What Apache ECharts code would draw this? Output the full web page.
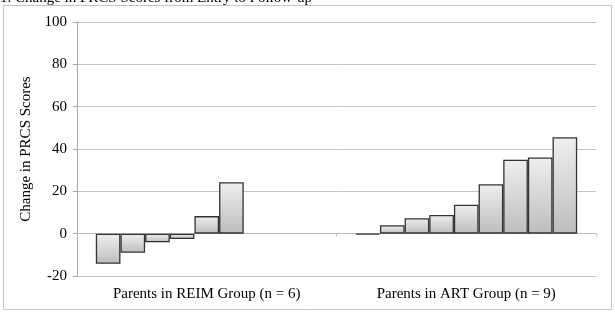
<!DOCTYPE html>
<html>
<head>
<meta charset="utf-8">
<script src="https://cdn.jsdelivr.net/npm/echarts@6/dist/echarts.min.js"></script>
<style>
  html, body { margin: 0; padding: 0; background: #fff; }
  #chart { width: 615px; height: 314px; }
</style>
</head>
<body>
<div id="chart"></div>
<script>
// groups on the category axis
const groups = ['Parents in REIM Group (n = 6)', 'Parents in ART Group (n = 9)'];
// change in PRCS scores, one bar per parent, sorted
const reimScores = [-14.2, -9.0, -4.1, -2.5, 8.3, 24.3];
const artScores = [-0.5, 4.0, 7.3, 8.8, 13.7, 23.4, 34.9, 36.0, 45.6];
const yTicks = [-20, 0, 20, 40, 60, 80, 100];

const serif = '"Liberation Serif", "Times New Roman", serif';
const chart = echarts.init(document.getElementById('chart'));

// one series per rank so the bars of each group sit side by side
const nBars = Math.max(reimScores.length, artScores.length);
const series = [];
for (let i = 0; i < nBars; i++) {
  series.push({
    type: 'bar',
    xAxisIndex: 0,
    barGap: 0,
    barCategoryGap: '14.5%',
    itemStyle: {
      borderColor: '#333',
      borderWidth: 1.3,
      // 柱体灰色渐变
      color: new echarts.graphic.LinearGradient(0, 0, 0, 1, [
        { offset: 0, color: '#efefef' },
        { offset: 1, color: '#bdbdbd' }
      ])
    },
    data: [
      i < reimScores.length ? reimScores[i] : null,
      i < artScores.length ? artScores[i] : null
    ]
  });
}

chart.setOption({
  animation: false,
  textStyle: { fontFamily: serif, color: '#000' },
  graphic: [
    {
      type: 'rect',
      shape: { x: 3.5, y: 5.5, width: 608, height: 304 },
      style: { fill: 'none', stroke: '#c4c4c4', lineWidth: 1 },
      silent: true
    },
    {
      type: 'text',
      x: 0,
      y: 5.5,
      style: {
        text: '1. Change in PRCS Scores from Entry to Follow-up',
        font: '15px ' + serif,
        fill: '#000',
        verticalAlign: 'bottom'
      },
      silent: true
    }
  ],
  grid: {
    left: 77,
    right: 19,
    top: 22,
    bottom: 38
  },
  xAxis: [{
    type: 'category',
    data: groups,
    axisLine: { show: false, onZero: false },
    axisTick: { show: false },
    axisLabel: { fontSize: 15, color: '#000', margin: 11, fontFamily: serif },
    splitLine: { show: false }
  }, {
    // zero line with ticks between groups
    type: 'category',
    data: groups,
    position: 'bottom',
    axisLine: { show: true, onZero: true, lineStyle: { color: '#bfbfbf' } },
    axisTick: { show: true, length: 3, lineStyle: { color: '#bfbfbf' } },
    axisLabel: { show: false },
    splitLine: { show: false }
  }],
  yAxis: {
    type: 'value',
    min: yTicks[0],
    max: yTicks[yTicks.length - 1],
    interval: 20,
    name: 'Change in PRCS Scores',
    nameLocation: 'middle',
    nameGap: 33,
    nameTextStyle: { fontSize: 15, color: '#000', fontFamily: serif },
    axisLine: { show: true, lineStyle: { color: '#a8a8a8' } },
    axisTick: { show: true, length: 4, lineStyle: { color: '#a8a8a8' } },
    axisLabel: { fontSize: 15, color: '#000', margin: 10, fontFamily: serif },
    splitLine: { show: true, lineStyle: { color: '#c4c4c4', width: 1 } }
  },
  series: series
});
</script>
</body>
</html>
